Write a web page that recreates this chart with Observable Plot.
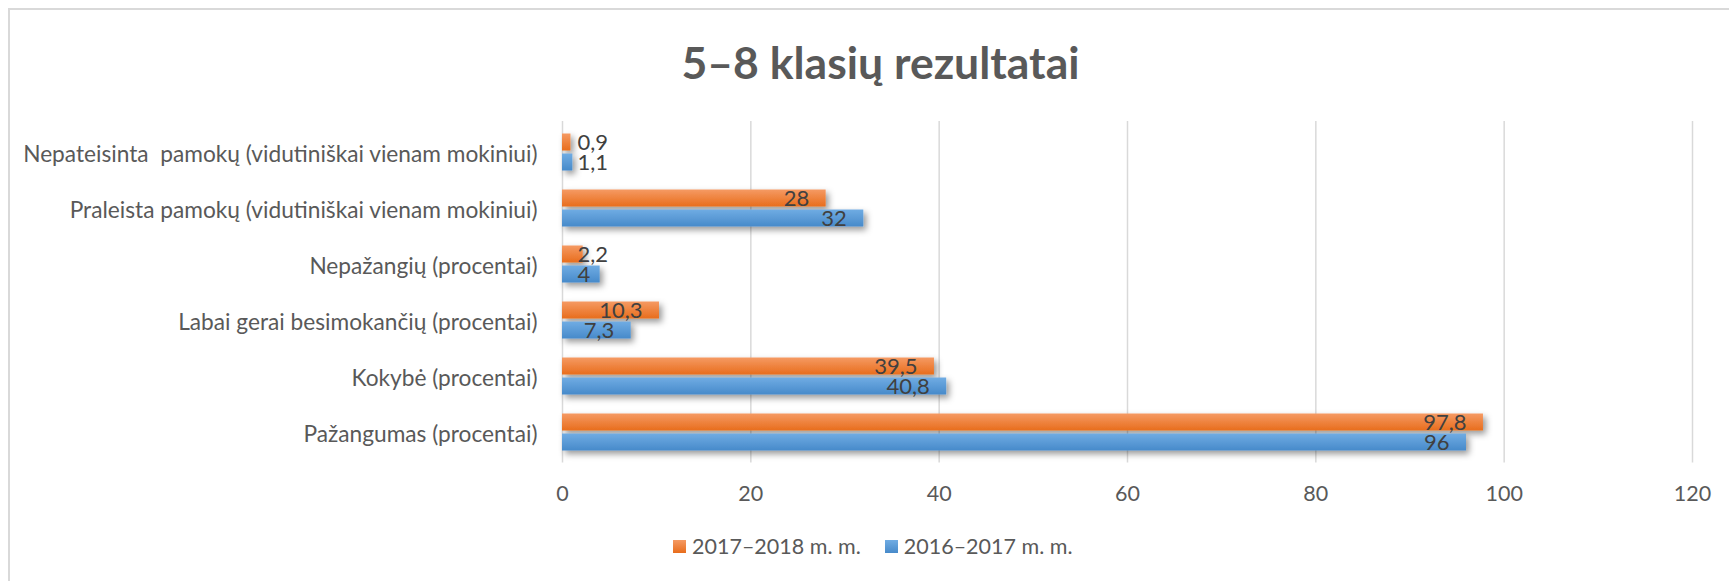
<!DOCTYPE html>
<html>
<head>
<meta charset="utf-8">
<script src="https://cdn.jsdelivr.net/npm/d3@7"></script>
<script src="https://cdn.jsdelivr.net/npm/@observablehq/plot@0.6"></script>
<style>
  html, body { margin: 0; padding: 0; background: #fff; }
  #wrap { position: relative; width: 1729px; height: 581px; overflow: hidden; font-family: Lato, sans-serif; }
  #box { position: absolute; left: 8px; top: 8px; width: 1800px; height: 700px; border-top: 2px solid #d9d9d9; border-left: 2px solid #d9d9d9; }
  #title { position: absolute; left: 16px; width: 1729px; top: 35px; text-align: center; font-size: 44.5px; font-weight: bold; color: #595959; }
  #chart { position: absolute; left: 0; top: 100px; }
  #chart svg text { white-space: pre; }
  #legend { position: absolute; top: 533px; left: 673px; font-size: 21.5px; color: #595959; display: flex; align-items: center; }
  .sw { display: inline-block; width: 13px; height: 13px; margin-right: 6px; }
  .item { display: flex; align-items: center; margin-right: 24px; }
</style>
</head>
<body>
<div id="wrap">
  <div id="box"></div>
  <div id="title">5–8 klasių rezultatai</div>
  <div id="chart"></div>
  <div id="legend"></div>
</div>
<script>
const categories = [
  "Nepateisinta  pamokų (vidutiniškai vienam mokiniui)",
  "Praleista pamokų (vidutiniškai vienam mokiniui)",
  "Nepažangių (procentai)",
  "Labai gerai besimokančių (procentai)",
  "Kokybė (procentai)",
  "Pažangumas (procentai)"
];
const series = ["2017–2018 m. m.", "2016–2017 m. m."];
const values2017_2018 = [0.9, 28, 2.2, 10.3, 39.5, 97.8];
const values2016_2017 = [1.1, 32, 4, 7.3, 40.8, 96];
const xTicks = [0, 20, 40, 60, 80, 100, 120];

const rowsA = categories.map((c, i) => ({category: c, series: series[0], value: values2017_2018[i]}));
const rowsB = categories.map((c, i) => ({category: c, series: series[1], value: values2016_2017[i]}));
const fmt = v => String(v).replace(".", ",");
const small = d => d.value < 5;

const labelStyle = {fontSize: 22, fill: "#404040"};

const plot = Plot.plot({
  width: 1729,
  height: 420,
  marginTop: 21,
  marginBottom: 57.5,
  marginLeft: 562,
  marginRight: 37,
  style: {fontFamily: "Lato, sans-serif", fontSize: "21px", color: "#595959", background: "transparent"},
  x: {domain: [0, 120], ticks: xTicks, label: null},
  y: {domain: categories, type: "band", padding: 0, label: null},
  marks: [
    Plot.gridX(xTicks, {stroke: "#d9d9d9", strokeOpacity: 1, strokeWidth: 1.5}),
    Plot.axisX({ticks: xTicks, tickSize: 0, tickPadding: 23, fontSize: 21.5, fill: "#595959"}),
    Plot.axisY({tickSize: 0, tickPadding: 25, fontSize: 22.7, dy: 2, fill: "#595959"}),
    Plot.barX(rowsA, {x: "value", y: "category", fill: "url(#gradO)", insetTop: 9.5, insetBottom: 29.5}),
    Plot.barX(rowsB, {x: "value", y: "category", fill: "url(#gradB)", insetTop: 29.5, insetBottom: 9.5}),
    Plot.text(rowsA.filter(d => !small(d)), {x: "value", y: "category", text: d => fmt(d.value), textAnchor: "end", dx: -17, dy: -10, ...labelStyle}),
    Plot.text(rowsB.filter(d => !small(d)), {x: "value", y: "category", text: d => fmt(d.value), textAnchor: "end", dx: -17, dy: 10, ...labelStyle}),
    Plot.text(rowsA.filter(small), {x: () => 0, y: "category", text: d => fmt(d.value), textAnchor: "start", dx: 15, dy: -10, ...labelStyle}),
    Plot.text(rowsB.filter(small), {x: () => 0, y: "category", text: d => fmt(d.value), textAnchor: "start", dx: 15, dy: 10, ...labelStyle})
  ]
});

// gradients and shadow
const NS = "http://www.w3.org/2000/svg";
const defs = document.createElementNS(NS, "defs");
function grad(id, top, bottom) {
  const g = document.createElementNS(NS, "linearGradient");
  g.setAttribute("id", id);
  g.setAttribute("x1", "0"); g.setAttribute("y1", "0");
  g.setAttribute("x2", "0"); g.setAttribute("y2", "1");
  [[0, top], [1, bottom]].forEach(([o, c]) => {
    const s = document.createElementNS(NS, "stop");
    s.setAttribute("offset", o);
    s.setAttribute("stop-color", c);
    g.appendChild(s);
  });
  defs.appendChild(g);
}
grad("gradO", "#F59A63", "#E86D1C");
grad("gradB", "#70ACE3", "#478ACA");
const f = document.createElementNS(NS, "filter");
f.setAttribute("id", "shadow");
f.setAttribute("x", "-10%"); f.setAttribute("y", "-30%");
f.setAttribute("width", "130%"); f.setAttribute("height", "180%");
const ds = document.createElementNS(NS, "feDropShadow");
ds.setAttribute("dx", "3"); ds.setAttribute("dy", "3.5");
ds.setAttribute("stdDeviation", "3");
ds.setAttribute("flood-color", "#000");
ds.setAttribute("flood-opacity", "0.4");
f.appendChild(ds);
defs.appendChild(f);
plot.insertBefore(defs, plot.firstChild);
plot.querySelectorAll('g[aria-label="bar"]').forEach(g => g.setAttribute("filter", "url(#shadow)"));

document.getElementById("chart").appendChild(plot);

const legend = document.getElementById("legend");
series.forEach((s, i) => {
  const item = document.createElement("div");
  item.className = "item";
  const sw = document.createElement("span");
  sw.className = "sw";
  sw.style.background = `linear-gradient(${i === 0 ? "#F59A63, #E86D1C" : "#70ACE3, #478ACA"})`;
  const t = document.createElement("span");
  t.textContent = s;
  item.appendChild(sw);
  item.appendChild(t);
  legend.appendChild(item);
});
</script>
</body>
</html>
